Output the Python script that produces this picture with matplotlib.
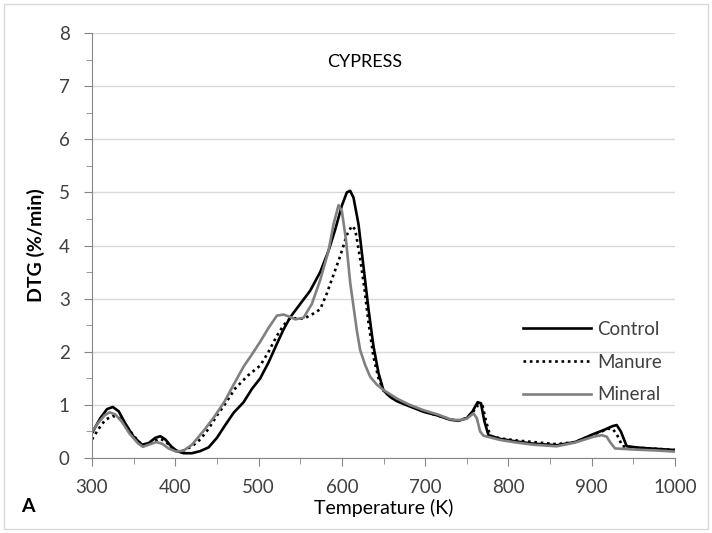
import numpy as np
import matplotlib.pyplot as plt
from matplotlib.patches import Rectangle

plt.rcParams['font.family'] = ['Lato', 'DejaVu Sans']

# temperature (K) and DTG (%/min)
control_t = [300, 310, 318, 325, 332, 340, 350, 360, 368, 376, 382, 388, 395, 402, 410, 420,
             430, 440, 450, 460, 470, 482, 492, 502, 512, 522, 530, 538, 550, 562, 574, 584,
             592, 600, 606, 610, 614, 620, 626, 632, 638, 644, 650, 658, 666, 680, 698, 715,
             730, 740, 750, 757, 763, 767, 771, 776, 790, 810, 830, 858, 880, 902, 915, 925,
             930, 935, 942, 960, 980, 1000]
control_v = [0.47, 0.75, 0.92, 0.96, 0.88, 0.65, 0.40, 0.25, 0.28, 0.38, 0.41, 0.35, 0.22, 0.13,
             0.09, 0.09, 0.13, 0.20, 0.38, 0.62, 0.85, 1.05, 1.30, 1.50, 1.80, 2.15, 2.42, 2.65,
             2.90, 3.15, 3.50, 3.90, 4.30, 4.75, 5.00, 5.03, 4.90, 4.40, 3.60, 2.80, 2.10, 1.60,
             1.27, 1.15, 1.07, 0.98, 0.87, 0.80, 0.72, 0.70, 0.75, 0.88, 1.05, 1.03, 0.70, 0.43,
             0.36, 0.31, 0.27, 0.24, 0.30, 0.45, 0.53, 0.60, 0.62, 0.50, 0.22, 0.19, 0.17, 0.15]

manure_t = [300, 308, 316, 325, 333, 340, 350, 360, 368, 376, 382, 388, 395, 402, 410, 420,
            430, 440, 450, 460, 472, 487, 502, 512, 522, 530, 538, 546, 554, 566, 574, 582,
            590, 598, 606, 612, 616, 622, 627, 632, 638, 644, 650, 658, 666, 680, 698, 715,
            730, 740, 750, 758, 764, 769, 773, 778, 790, 810, 830, 858, 880, 902, 912, 920,
            925, 930, 937, 960, 980, 1000]
manure_v = [0.35, 0.55, 0.72, 0.79, 0.75, 0.62, 0.42, 0.24, 0.25, 0.33, 0.36, 0.32, 0.20, 0.13,
            0.14, 0.22, 0.35, 0.55, 0.80, 1.02, 1.31, 1.55, 1.74, 2.00, 2.30, 2.50, 2.63, 2.63,
            2.62, 2.72, 2.80, 3.10, 3.45, 3.80, 4.20, 4.37, 4.30, 3.75, 3.20, 2.55, 1.90, 1.50,
            1.27, 1.15, 1.08, 1.00, 0.88, 0.80, 0.73, 0.71, 0.75, 0.88, 1.00, 0.98, 0.70, 0.42,
            0.37, 0.33, 0.30, 0.26, 0.30, 0.44, 0.50, 0.55, 0.55, 0.45, 0.22, 0.19, 0.17, 0.15]

mineral_t = [300, 308, 315, 321, 328, 336, 345, 355, 361, 368, 377, 384, 392, 401, 410, 420,
             435, 447, 459, 470, 482, 492, 502, 512, 522, 530, 537, 544, 554, 564, 574, 584,
             590, 596, 600, 605, 610, 614, 618, 622, 628, 634, 642, 650, 658, 666, 680, 698,
             715, 730, 740, 750, 758, 762, 766, 770, 790, 810, 830, 858, 880, 902, 912, 918,
             922, 928, 950, 980, 1000]
mineral_v = [0.50, 0.67, 0.80, 0.86, 0.82, 0.68, 0.46, 0.28, 0.21, 0.25, 0.30, 0.27, 0.18, 0.12,
             0.14, 0.25, 0.53, 0.78, 1.06, 1.38, 1.72, 1.95, 2.19, 2.45, 2.68, 2.70, 2.66, 2.61,
             2.64, 2.90, 3.35, 3.90, 4.40, 4.76, 4.65, 4.10, 3.30, 2.85, 2.40, 2.03, 1.75, 1.53,
             1.38, 1.28, 1.20, 1.12, 1.01, 0.90, 0.82, 0.73, 0.71, 0.74, 0.84, 0.75, 0.50, 0.42,
             0.34, 0.29, 0.25, 0.22, 0.29, 0.40, 0.43, 0.40, 0.30, 0.18, 0.16, 0.14, 0.12]

fig = plt.figure(figsize=(7.12, 5.33), dpi=100)
ax = fig.add_axes([92 / 712, 1 - 458 / 533, (675 - 92) / 712, (458 - 33) / 533])

# Excel-like chart border
fig.patches.append(Rectangle((4 / 712, 4 / 533), 704 / 712, 525 / 533, transform=fig.transFigure,
                             fill=False, edgecolor='#d9d9d9', linewidth=1))

ax.plot(control_t, control_v, color='black', lw=1.9, label='Control')
ax.plot(manure_t, manure_v, color='black', lw=1.9, linestyle=(0, (1, 1.4)), label='Manure')
ax.plot(mineral_t, mineral_v, color='#808080', lw=1.9, label='Mineral')

ax.set_xlim(300, 1000)
ax.set_ylim(0, 8)
ax.set_xticks(np.arange(300, 1001, 100))
ax.set_xticks(np.arange(350, 1000, 100), minor=True)
ax.set_yticks(np.arange(0, 9, 1))
ax.set_yticks(np.arange(0.5, 8, 1), minor=True)
ax.grid(axis='y', which='major', color='#d9d9d9', lw=1)
ax.set_axisbelow(True)

for s in ['top', 'right']:
    ax.spines[s].set_visible(False)
for s in ['left', 'bottom']:
    ax.spines[s].set_color('#868686')
ax.tick_params(which='both', color='#868686', direction='out', labelsize=13.5,
               labelcolor='#404040')
ax.tick_params(which='major', length=6)
ax.tick_params(which='minor', length=4)
ax.tick_params(axis='x', pad=9)
ax.tick_params(axis='y', pad=10)

ax.set_xlabel('Temperature (K)', fontsize=14, labelpad=2)
ax.set_ylabel('DTG (%/min)', fontsize=14, fontweight='bold', labelpad=10)
ax.text(628, 7.45, 'CYPRESS', fontsize=13, ha='center', va='center')
fig.text(28 / 712, 1 - 507 / 533, 'A', fontsize=14, fontweight='bold', ha='center', va='center')

ax.legend(loc='center left', bbox_to_anchor=(523 / 712, 1 - 362 / 533),
          bbox_transform=fig.transFigure, frameon=False, fontsize=13.5,
          handlelength=3.6, labelspacing=0.85, handletextpad=0.35,
          borderpad=0, borderaxespad=0, labelcolor='#404040')

fig.savefig('out.png', dpi=100)
